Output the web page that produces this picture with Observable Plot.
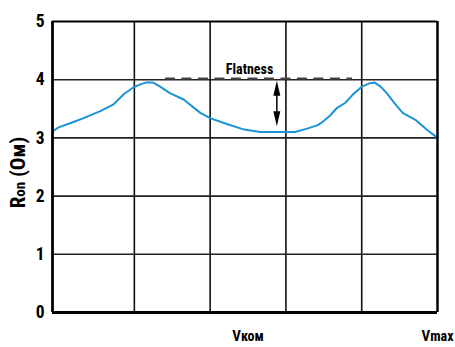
<!DOCTYPE html>
<html><head><meta charset="utf-8">
<script src="https://cdn.jsdelivr.net/npm/d3@7"></script>
<script src="https://cdn.jsdelivr.net/npm/@observablehq/plot@0.6"></script>
<style>
body{margin:0;background:#fff}
svg text{font-stretch:condensed}
</style>
</head><body><div id="chart"></div>
<script>
// Curve: input voltage (grid units, 0..5) vs R_on (Ом)
const vIn = [-0.08, 0, 0.17, 0.33, 0.55, 0.72, 0.86, 0.99, 1.08, 1.15, 1.25, 1.34, 1.47, 1.65, 1.87, 2.0, 2.22, 2.43, 2.66, 2.91, 3.12, 3.28, 3.42, 3.49, 3.58, 3.67, 3.78, 3.88, 4.0, 4.11, 4.17, 4.25, 4.33, 4.43, 4.54, 4.72, 4.86, 5.0];
const ron = [3.11, 3.18, 3.26, 3.34, 3.46, 3.57, 3.75, 3.87, 3.92, 3.95, 3.95, 3.88, 3.77, 3.66, 3.43, 3.34, 3.24, 3.15, 3.10, 3.10, 3.10, 3.16, 3.22, 3.28, 3.38, 3.51, 3.60, 3.74, 3.88, 3.94, 3.95, 3.88, 3.77, 3.60, 3.43, 3.30, 3.14, 3.00];

const xDomain = [-0.08, 5];
const yDomain = [0, 5];
const yTicks = [0, 1, 2, 3, 4, 5];
const gridX = [1, 2, 3, 4];
const gridY = [1, 2, 3, 4];
const xTickValues = [2.5, 5];
const xTickMain = ["V", "V"];
const xTickSub = ["ком", "max"];

const yLabelMain = "R";
const yLabelSub = "on";
const yLabelUnit = " (Ом)";

// Flatness annotation
const flatLine = [{x1: 1.41, x2: 3.88, y: 4.02}];
const flatLabel = [{x: 2.52, y: 4.09, text: "Flatness"}];
const arrowShaft = [{x: 2.88, y1: 3.90, y2: 3.28}];
const arrowHeads = [{x: 2.88, y: 3.98, rot: 0}, {x: 2.88, y: 3.20, rot: 180}];

const FONT = 'Roboto, "Open Sans", sans-serif';

const data = vIn.map((v, i) => ({v, r: ron[i]}));

const arrowHeadSymbol = {
  draw(context) {
    context.moveTo(0, 0);
    context.lineTo(3.5, 15);
    context.lineTo(-3.5, 15);
    context.closePath();
  }
};

const chart = Plot.plot({
  width: 455,
  height: 347,
  marginLeft: 52,
  marginRight: 18,
  marginTop: 21,
  marginBottom: 35,
  x: {domain: xDomain},
  y: {domain: yDomain},
  style: {fontFamily: FONT, background: "#fff", overflow: "visible", fontStretch: "condensed"},
  marks: [
    Plot.ruleX(gridX, {stroke: "#111", strokeWidth: 1.6}),
    Plot.ruleY(gridY, {stroke: "#222", strokeWidth: 1.6}),
    Plot.ruleY(flatLine, {x1: "x1", x2: "x2", y: "y", stroke: "#444", strokeWidth: 2, strokeDasharray: "10,6.5"}),
    Plot.text(flatLabel, {x: "x", y: "y", text: "text", fontSize: 14, fontWeight: "bold", textAnchor: "middle", lineAnchor: "bottom", fill: "#000"}),
    Plot.ruleX(arrowShaft, {x: "x", y1: "y1", y2: "y2", stroke: "#000", strokeWidth: 1.5}),
    Plot.dot(arrowHeads, {x: "x", y: "y", rotate: "rot", symbol: arrowHeadSymbol, fill: "#000", stroke: "none"}),
    Plot.line(data, {x: "v", y: "r", stroke: "#1b93d5", strokeWidth: 2}),
    Plot.ruleX([xDomain[0]], {stroke: "#000", strokeWidth: 2.8}),
    Plot.ruleX([xDomain[1]], {stroke: "#000", strokeWidth: 2.5}),
    Plot.ruleY([yDomain[0]], {stroke: "#000", strokeWidth: 3}),
    Plot.ruleY([yDomain[1]], {stroke: "#000", strokeWidth: 2}),
    Plot.axisY({ticks: yTicks, tickSize: 0, tickPadding: 8, fontSize: 17.5, fontWeight: "bold", label: null, tickFormat: d => String(d)}),
    Plot.axisX({ticks: xTickValues, tickSize: 0, tickPadding: 17.5, fontSize: 15, fontWeight: "bold", label: null, tickFormat: (d, i) => xTickMain[i]})
  ]
});

const svg = d3.select(chart);
svg.selectAll('[aria-label="x-axis tick label"] text').each(function(d, i) {
  d3.select(this).append("tspan").attr("font-size", 14).text(xTickSub[i]);
});

const yl = svg.append("text")
  .attr("transform", "translate(25,172.5) rotate(-90)")
  .attr("text-anchor", "middle")
  .attr("font-family", FONT)
  .attr("font-weight", "bold")
  .attr("fill", "#000");
yl.append("tspan").attr("font-size", 21).text(yLabelMain);
yl.append("tspan").attr("font-size", 15).text(yLabelSub);
yl.append("tspan").attr("font-size", 21).text(yLabelUnit);

document.getElementById("chart").appendChild(chart);
</script>
</body></html>
